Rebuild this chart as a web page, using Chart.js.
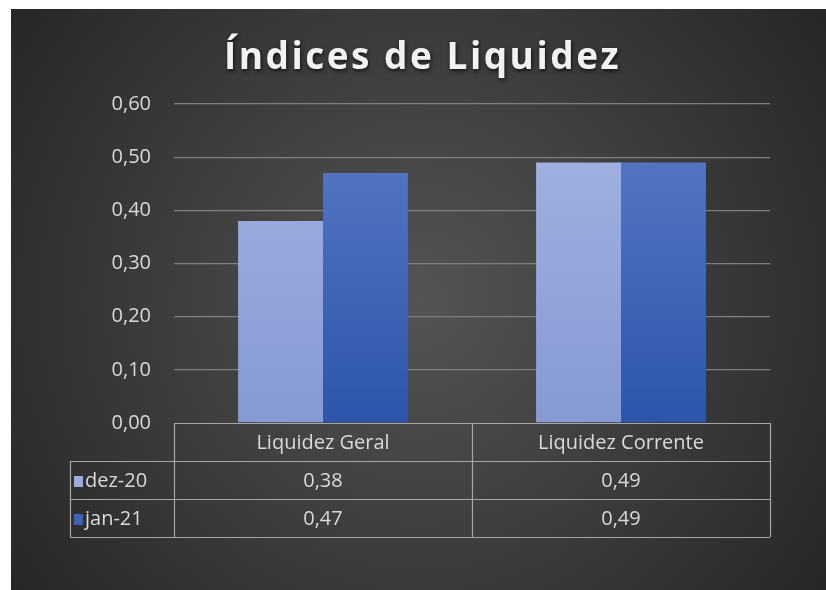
<!DOCTYPE html>
<html lang="pt">
<head>
<meta charset="utf-8">
<title>Índices de Liquidez</title>
<script src="https://cdn.jsdelivr.net/npm/chart.js@4.4.1/dist/chart.umd.min.js"></script>
<style>
  html, body { margin: 0; padding: 0; background: #ffffff; }
  #moldura { position: absolute; left: 11px; top: 9px; width: 815px; height: 581px; }
</style>
</head>
<body>
<div id="moldura"><canvas id="grafico"></canvas></div>
<script>
// dados
const categorias = ["Liquidez Geral", "Liquidez Corrente"]
const series = ["dez-20", "jan-21"]
const valoresDez20 = [0.38, 0.49]
const valoresJan21 = [0.47, 0.49]
const ticksY = [0, 0.1, 0.2, 0.3, 0.4, 0.5, 0.6]

const FONTE = "'Open Sans', 'DejaVu Sans', sans-serif"
const COR_TEXTO = "#d9d9d9"
const COR_BORDA = "#a6a6a6"

const formatar = (v) => v.toFixed(2).replace(".", ",")

function gradienteBarra(ctx, topo, base) {
  const area = ctx.chart.chartArea
  if (!area) return base
  const g = ctx.chart.ctx.createLinearGradient(0, area.top, 0, area.bottom)
  g.addColorStop(0, topo)
  g.addColorStop(1, base)
  return g
}

// fundo escuro com gradiente radial
const pluginFundo = {
  id: "fundo",
  beforeDraw(chart) {
    const { ctx, width, height } = chart
    const g = ctx.createRadialGradient(width / 2, height / 2, 0, width / 2, height / 2, width * 0.62)
    g.addColorStop(0, "#545454")
    g.addColorStop(1, "#262626")
    ctx.save()
    ctx.fillStyle = g
    ctx.fillRect(0, 0, width, height)
    ctx.restore()
  },
}

// título com sombra
const pluginTitulo = {
  id: "tituloSombra",
  afterDraw(chart) {
    const { ctx, width } = chart
    ctx.save()
    ctx.font = `bold 37px ${FONTE}`
    ctx.letterSpacing = "2.5px"
    ctx.fillStyle = "#f2f2f2"
    ctx.textAlign = "center"
    ctx.textBaseline = "middle"
    ctx.shadowColor = "rgba(0,0,0,0.7)"
    ctx.shadowBlur = 4
    ctx.shadowOffsetX = 1
    ctx.shadowOffsetY = 2
    ctx.fillText("Índices de Liquidez", width / 2 + 4, 49)
    ctx.restore()
  },
}

// tabela de dados abaixo do gráfico
const pluginTabela = {
  id: "tabelaDados",
  afterDraw(chart) {
    const { ctx, chartArea } = chart
    const x = chart.scales.x
    const alturaLinha = 38
    const topo = chartArea.bottom
    const esquerdaLegenda = 59
    const meio = (x.getPixelForValue(0) + x.getPixelForValue(1)) / 2
    const colunas = [chartArea.left, meio, chartArea.right]

    ctx.save()
    ctx.strokeStyle = COR_BORDA
    ctx.lineWidth = 1.2

    // linhas horizontais
    ctx.beginPath()
    ctx.moveTo(chartArea.left, topo + 0.5)
    ctx.lineTo(chartArea.right, topo + 0.5)
    for (let i = 1; i <= 3; i++) {
      const y = Math.round(topo + i * alturaLinha) + 0.5
      ctx.moveTo(esquerdaLegenda, y)
      ctx.lineTo(chartArea.right, y)
    }
    // linhas verticais
    for (const cx of colunas) {
      const xx = Math.round(cx) + 0.5
      ctx.moveTo(xx, topo)
      ctx.lineTo(xx, topo + 3 * alturaLinha)
    }
    ctx.moveTo(esquerdaLegenda + 0.5, topo + alturaLinha)
    ctx.lineTo(esquerdaLegenda + 0.5, topo + 3 * alturaLinha)
    ctx.stroke()

    ctx.font = `20px ${FONTE}`
    ctx.fillStyle = COR_TEXTO
    ctx.textAlign = "center"
    ctx.textBaseline = "middle"
    categorias.forEach((c, i) => {
      ctx.fillText(c, x.getPixelForValue(i), topo + alturaLinha / 2 + 1)
    })

    const linhas = [valoresDez20, valoresJan21]
    const coresLegenda = ["#9aabde", "#3a62b8"]
    linhas.forEach((vals, r) => {
      const yc = topo + alturaLinha * (r + 1.5) + 1
      vals.forEach((v, i) => {
        ctx.textAlign = "center"
        ctx.fillStyle = COR_TEXTO
        ctx.fillText(formatar(v), x.getPixelForValue(i), yc)
      })
      ctx.fillStyle = coresLegenda[r]
      ctx.fillRect(esquerdaLegenda + 4, yc - 5, 9, 11)
      ctx.fillStyle = COR_TEXTO
      ctx.textAlign = "left"
      ctx.fillText(series[r], esquerdaLegenda + 15, yc)
    })
    ctx.restore()
  },
}

new Chart(document.getElementById("grafico"), {
  type: "bar",
  data: {
    labels: categorias,
    datasets: [
      {
        label: series[0],
        data: valoresDez20,
        backgroundColor: (ctx) => gradienteBarra(ctx, "#a3b3e2", "#8699d3"),
      },
      {
        label: series[1],
        data: valoresJan21,
        backgroundColor: (ctx) => gradienteBarra(ctx, "#5b7cc6", "#2c55ab"),
      },
    ],
  },
  options: {
    responsive: true,
    maintainAspectRatio: false,
    animation: false,
    layout: {
      padding: { top: 95, right: 56, bottom: 167, left: 0 },
    },
    datasets: {
      bar: { categoryPercentage: 0.57, barPercentage: 1.0 },
    },
    scales: {
      x: { display: false },
      y: {
        min: 0,
        max: 0.6,
        afterFit(scale) {
          scale.width = 163
        },
        afterBuildTicks(scale) {
          scale.ticks = ticksY.map((v) => ({ value: v }))
        },
        border: { display: false },
        grid: {
          color: (ctx) => (ctx.tick.value === 0 ? "rgba(0,0,0,0)" : "#7f7f7f"),
          lineWidth: 1.3,
          drawTicks: false,
        },
        ticks: {
          padding: 23,
          color: COR_TEXTO,
          font: { family: FONTE, size: 20 },
          callback: (v) => formatar(v),
        },
      },
    },
    plugins: {
      legend: { display: false },
      title: { display: false },
      tooltip: { enabled: false },
    },
  },
  plugins: [pluginFundo, pluginTabela, pluginTitulo],
})
</script>
</body>
</html>
